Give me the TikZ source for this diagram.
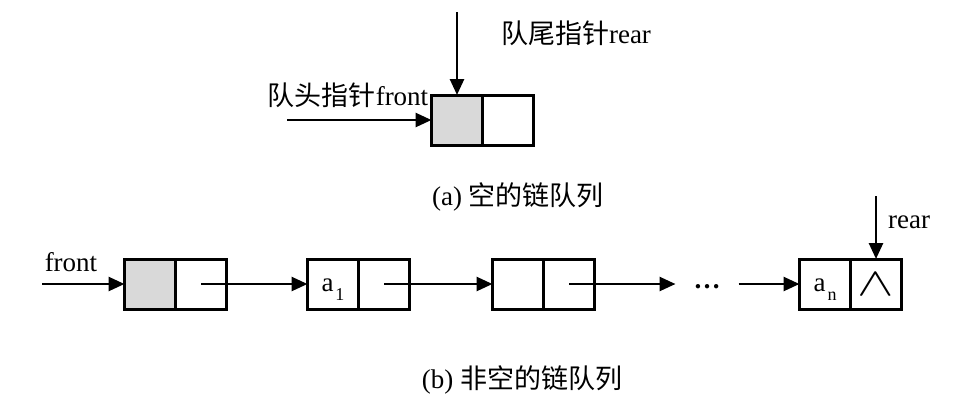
\documentclass[tikz,border=0pt]{standalone}
\usepackage{graphicx}
\usepackage{fontspec}
\setmainfont{Liberation Serif}
\newfontfamily\cjk{Noto Sans CJK SC}
\usetikzlibrary{arrows.meta, positioning}
\definecolor{cgrey}{HTML}{D9D9D9}
\newcommand{\lowsub}[2]{\raisebox{-7pt}[0pt][0pt]{#1\hspace{2pt}\raisebox{-9pt}{\fontsize{18}{18}\selectfont #2}}}
\tikzset{
  every picture/.style={font=\fontsize{27}{32}\selectfont, line width=3pt},
  cell/.style={draw, fill=#1, minimum width=51pt, minimum height=50pt, inner sep=0pt, outer sep=0pt},
  cell/.default=white,
  arrow/.style={-{Triangle[length=16pt, width=14pt]}, line width=2.6pt},
}

\begin{document}
\begin{tikzpicture}[x=1pt, y=-1pt]
  \useasboundingbox (0,0) rectangle (958,416);
  % (a) empty queue: front and rear on the head node
  \node[cell=cgrey] (h0) at (457,120) {};
  \node[cell, right=0pt of h0] (p0) {};
  \coordinate (rear0) at (457,12);
  \coordinate (front0) at (287,120);
  \draw[arrow] (rear0) -- (h0.north);
  \draw[arrow] (front0) -- (h0.west);
  \node (rl0) at (576,33) {{\cjk 队尾指针}rear};
  \node (fl0) at (348,95) {{\cjk 队头指针}front};
  \node (capa) at (518,197) {(a) {\cjk 空的链队列}};
  % (b) non-empty queue
  \node[cell=cgrey] (h1) at (150,284) {};
  \node[cell, right=0pt of h1] (p1) {};
  \node[cell] (d2) at (333,284) {\lowsub{a}{1}};
  \node[cell, right=0pt of d2] (p2) {};
  \node[cell] (d3) at (518,284) {};
  \node[cell, right=0pt of d3] (p3) {};
  \node[minimum width=60pt, inner sep=0pt, anchor=base] (dots) at (707,288) {\textbf{…}};
  \node[cell] (d4) at (825,284) {\lowsub{a}{n}};
  \node[cell, right=0pt of d4] (p4) {\raisebox{-3pt}{\scalebox{2.2}[1.6]{$\wedge$}}};
  \foreach \a/\b in {p1/d2, p2/d3} {
    \draw[arrow] (\a.center) -- (\b.west);
  }
  \draw[arrow] (p3.center) -- (p3.center -| dots.west);
  \draw[arrow] (d4.west -| dots.east) -- (d4.west);
  % head and tail pointers
  \coordinate (front1) at (42,284);
  \coordinate (rear1) at (876,196);
  \draw[arrow] (front1) -- (h1.west);
  \draw[arrow] (rear1) -- (p4.north);
  \node (fl1) at (71,262) {front};
  \node (rl1) at (909,222) {rear};
  \node (capb) at (522,380) {(b) {\cjk 非空的链队列}};
\end{tikzpicture}
\end{document}
